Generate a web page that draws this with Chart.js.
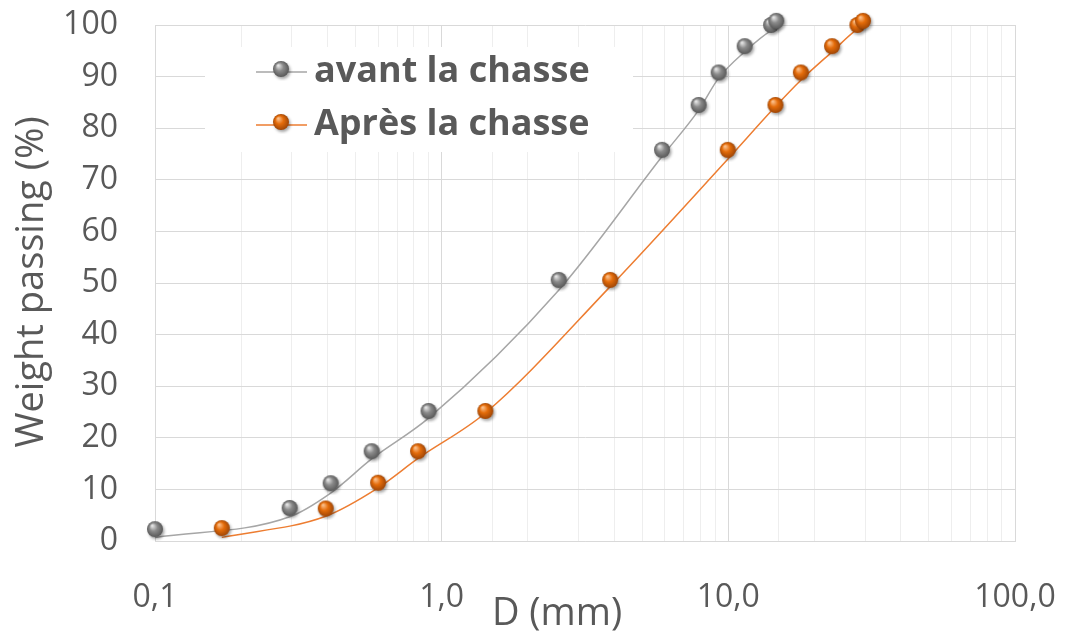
<!DOCTYPE html>
<html><head><meta charset="utf-8">
<script src="https://cdn.jsdelivr.net/npm/chart.js@4/dist/chart.umd.min.js"></script>
<style>html,body{margin:0;padding:0;background:#fff;}#wrap{width:1065px;height:642px;position:relative;}</style>
</head><body><div id="wrap"><canvas id="c"></canvas></div>
<script>
// ---- data ----
const seriesNames = ['avant la chasse', 'Après la chasse'];
const avantD      = [0.1, 0.295, 0.41, 0.57, 0.90, 2.56, 5.87, 7.88, 9.25, 11.4, 14.1, 14.7];
const avantPct    = [2.3, 6.4, 11.2, 17.4, 25.2, 50.6, 75.8, 84.5, 90.8, 95.9, 100.0, 100.8];
const avantCurve  = [0.7, 4.7, 9.3, 15.9, 23.8, 48.6, 74.5, 83.5, 89.7, 94.8, 98.9, 99.3];
const apresD      = [0.171, 0.394, 0.600, 0.827, 1.42, 3.87, 9.95, 14.6, 17.9, 23.0, 28.2, 29.5];
const apresPct    = [2.5, 6.3, 11.3, 17.4, 25.2, 50.6, 75.8, 84.5, 90.8, 95.9, 100.0, 100.8];
const apresCurve  = [0.7, 4.8, 10.3, 16.0, 24.8, 49.3, 74.0, 84.2, 89.3, 94.8, 99.2, 99.7];
const xLabelTicks = [0.1, 1, 10, 100];
const yTickStep = 10;
const xTitle = 'D (mm)';
const yTitle = 'Weight passing (%)';

const pts = (xs, ys) => xs.map((x, i) => ({x: x, y: ys[i]}));

function sphere(light, base, dark, r) {
  const s = 2 * r + 8;
  const c = document.createElement('canvas');
  c.width = s; c.height = s;
  const g = c.getContext('2d');
  const cx = s / 2, cy = s / 2;
  g.save();
  g.shadowColor = 'rgba(0,0,0,0.35)';
  g.shadowBlur = 3; g.shadowOffsetX = 1.5; g.shadowOffsetY = 2;
  const grd = g.createRadialGradient(cx - r * 0.35, cy - r * 0.45, 0.5, cx, cy, r * 1.05);
  grd.addColorStop(0, light);
  grd.addColorStop(0.45, base);
  grd.addColorStop(1, dark);
  g.fillStyle = grd;
  g.beginPath(); g.arc(cx, cy, r, 0, Math.PI * 2); g.fill();
  g.restore();
  return c;
}
const graySphere = sphere('#e6e6e6', '#8a8a8a', '#555555', 8);
const orangeSphere = sphere('#fbc08c', '#e46c0a', '#9a4306', 8);

const isMajor = v => Math.abs(Math.log10(v) - Math.round(Math.log10(v))) < 1e-6;
const TXT = '#595959';

const overlay = {
  id: 'overlay',
  afterDraw(chart) {
    const ctx = chart.ctx;
    ctx.save();
    // legend
    ctx.fillStyle = '#ffffff';
    ctx.fillRect(205, 47, 428, 105);
    const items = [
      {name: seriesNames[0], col: '#a6a6a6', img: graySphere, y: 72},
      {name: seriesNames[1], col: '#ed7d31', img: orangeSphere, y: 125}
    ];
    items.forEach(it => {
      ctx.strokeStyle = it.col; ctx.lineWidth = 1.5;
      ctx.beginPath(); ctx.moveTo(256, it.y); ctx.lineTo(307, it.y); ctx.stroke();
      ctx.drawImage(it.img, 281 - it.img.width / 2, it.y - 3 - it.img.height / 2);
      ctx.fillStyle = TXT;
      ctx.font = 'bold 36px "Open Sans"';
      ctx.textAlign = 'left'; ctx.textBaseline = 'middle';
      ctx.fillText(it.name, 314, it.y);
    });
    // axis titles
    ctx.fillStyle = TXT;
    ctx.font = '38px "Open Sans"';
    ctx.textAlign = 'center'; ctx.textBaseline = 'middle';
    ctx.fillText(xTitle, 557, 614);
    ctx.translate(32, 282);
    ctx.rotate(-Math.PI / 2);
    ctx.fillText(yTitle, 0, 0);
    ctx.restore();
  }
};

new Chart(document.getElementById('c'), {
  type: 'scatter',
  data: {
    datasets: [
      {label: seriesNames[0], data: pts(avantD, avantPct), showLine: false,
       pointStyle: graySphere, pointRadius: 8, order: 0, clip: false},
      {label: seriesNames[1], data: pts(apresD, apresPct), showLine: false,
       pointStyle: orangeSphere, pointRadius: 8, order: 0, clip: false},
      {label: seriesNames[0] + ' (courbe)', data: pts(avantD, avantCurve), showLine: true,
       borderColor: '#a6a6a6', borderWidth: 1.5, pointRadius: 0, cubicInterpolationMode: 'monotone', order: 1, clip: false},
      {label: seriesNames[1] + ' (courbe)', data: pts(apresD, apresCurve), showLine: true,
       borderColor: '#ed7d31', borderWidth: 1.5, pointRadius: 0, cubicInterpolationMode: 'monotone', order: 1, clip: false}
    ]
  },
  options: {
    responsive: true, maintainAspectRatio: false, animation: false,
    layout: {padding: {top: 25, right: 50, left: 0, bottom: 0}},
    plugins: {legend: {display: false}, tooltip: {enabled: false}},
    scales: {
      x: {
        type: 'logarithmic', min: 0.1, max: 100,
        afterFit: s => { s.height = 101; s.paddingLeft = 0; s.paddingRight = 0; s.paddingTop = 0; s.paddingBottom = 0; },
        border: {color: '#d9d9d9'},
        grid: {drawTicks: false,
          color: c => (c.tick && isMajor(c.tick.value)) ? '#d9d9d9' : '#eeeeee'},
        ticks: {autoSkip: false, maxRotation: 0, padding: 38, color: TXT,
          font: {family: 'Open Sans', size: 32},
          callback: v => xLabelTicks.some(t => Math.abs(t - v) < 1e-9) ? Number(v).toFixed(1).replace('.', ',') : ''}
      },
      y: {
        min: 0, max: 100,
        afterFit: s => { s.width = 155; s.paddingLeft = 0; s.paddingRight = 0; s.paddingTop = 0; s.paddingBottom = 0; },
        border: {color: '#d9d9d9'},
        grid: {drawTicks: false, color: '#d9d9d9'},
        ticks: {stepSize: yTickStep, padding: 37, color: TXT, font: {family: 'Open Sans', size: 32}}
      }
    }
  },
  plugins: [overlay]
});
</script></body></html>
